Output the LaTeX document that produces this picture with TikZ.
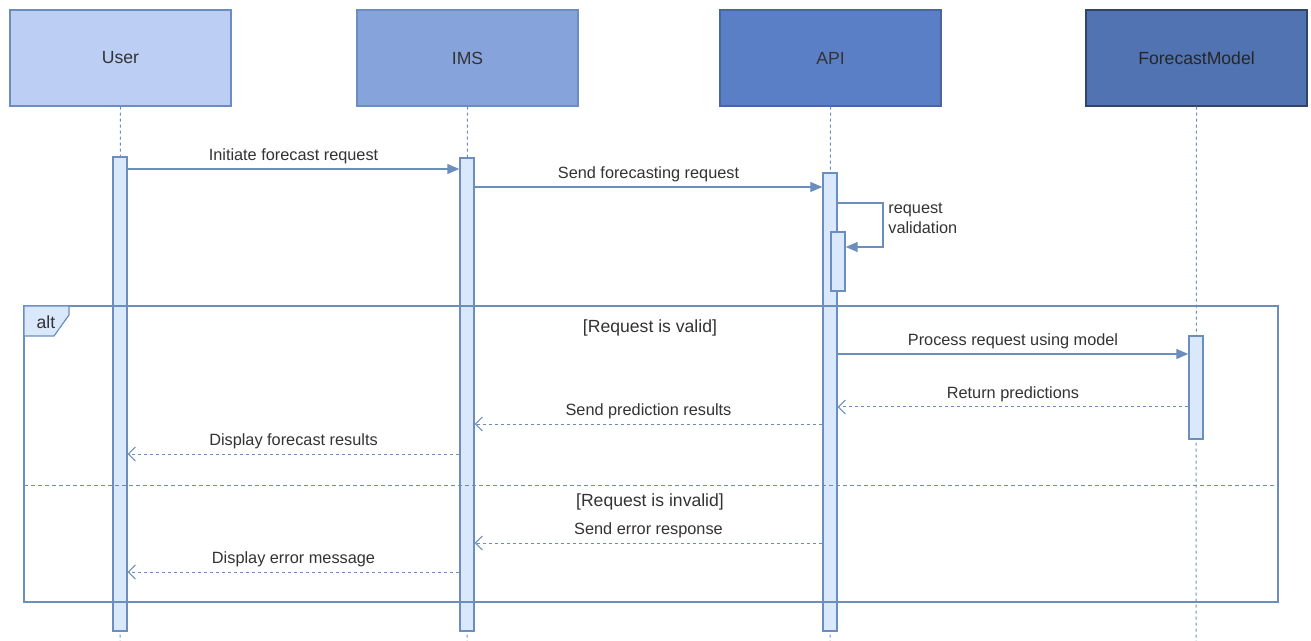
\documentclass[tikz,border=0pt]{standalone}
\usepackage{fontspec}
\setmainfont{Liberation Sans}
\usetikzlibrary{arrows.meta}
\definecolor{lineblue}{HTML}{6C8EBF}
\definecolor{barfill}{HTML}{DAE8FC}
\definecolor{userfill}{HTML}{BCCEF3}
\definecolor{imsfill}{HTML}{86A3DB}
\definecolor{apifill}{HTML}{5B7FC7}
\definecolor{fmfill}{HTML}{5173B2}
\definecolor{txt}{HTML}{333333}
\begin{document}
\begin{tikzpicture}[x=0.5pt,y=-0.5pt,
	head/.style={draw=lineblue, line width=0.6pt, minimum width=110.5pt, minimum height=48pt, inner sep=0pt, text=txt, font=\fontsize{8.8}{10}\selectfont},
	bar/.style={draw=lineblue, fill=barfill, line width=0.7pt, minimum width=7pt, inner sep=0pt},
	life/.style={draw=lineblue, line width=0.5pt, dash pattern=on 1.5pt off 1.5pt},
	call/.style={draw=lineblue, line width=0.65pt, -{Triangle[length=6pt,width=5pt]}},
	reply/.style={draw=lineblue, line width=0.5pt, dash pattern=on 1.5pt off 1.5pt, -{Straight Barb[length=3.5pt,width=7pt]}},
	lbl/.style={fill=white, inner sep=1pt, text=txt, font=\fontsize{8.15}{9.5}\selectfont},
	guard/.style={text=txt, font=\fontsize{8.8}{10}\selectfont}]
	\useasboundingbox (0,0) rectangle (1311,641);

	% participants
	\node[head, fill=userfill] (user) at (120.5,58) {User};
	\node[head, fill=imsfill] (ims) at (467.5,58) {IMS};
	\node[head, fill=apifill, draw=apifill!80!black] (api) at (830.5,58) {API};
	\node[head, fill=fmfill, draw=fmfill!60!black, text=black!85] (fm) at (1196.5,58) {ForecastModel};

	\coordinate (uend) at (120,641);
	\coordinate (iend) at (467,641);
	\coordinate (aend) at (830,641);
	\coordinate (fend) at (1196,641);
	\draw[life] (user.south) -- (uend);
	\draw[life] (ims.south) -- (iend);
	\draw[life] (api.south) -- (aend);
	\draw[life] (fm.south) -- (fend);

	% activations
	\node[bar, minimum height=237pt] (ubar) at (120,394) {};
	\node[bar, minimum height=236.5pt] (ibar) at (467,394.5) {};
	\node[bar, minimum height=229pt] (abar) at (830,402) {};
	\node[bar, minimum height=29.5pt] (vbar) at (838,261.5) {};
	\node[bar, minimum height=51.5pt] (fbar) at (1196,387.5) {};

	% messages
	\draw[call] (ubar.east |- 0,169) -- (ibar.west |- 0,169) node[lbl, midway, yshift=6.5pt] {Initiate forecast request};
	\draw[call] (ibar.east |- 0,187) -- (abar.west |- 0,187) node[lbl, midway, yshift=6.5pt] {Send forecasting request};
	\coordinate (self1) at (883,203);
	\coordinate (self2) at (883,247);
	\draw[call] (abar.east |- self1) -- (self1) -- (self2) -- (vbar.east |- self2);
	\node[text=txt, align=left, anchor=north west, inner sep=0pt, font=\fontsize{8.15}{10}\selectfont] (selflbl) at (888,203) {request\\validation};

	% alt fragment
	\draw[lineblue, line width=0.6pt] (24,306) rectangle (1278,602);
	\draw[lineblue, line width=0.6pt, fill=barfill] (24,306) -- (69,306) -- (69,315) -- (54,336) -- (24,336) -- cycle;
	\node[guard] (altlbl) at (46,322) {alt};
	\node[guard] (valid) at (650,328) {[Request is valid]};
	\draw[lineblue, line width=0.5pt, dash pattern=on 2pt off 1.5pt] (24,485) -- (1278,485);
	\node[guard] (invalid) at (650,502) {[Request is invalid]};

	\draw[call] (abar.east |- 0,354) -- (fbar.west |- 0,354) node[lbl, midway, yshift=6.5pt] {Process request using model};
	\draw[reply] (fbar.west |- 0,407) -- (abar.east |- 0,407) node[lbl, midway, yshift=6.5pt] {Return predictions};
	\draw[reply] (abar.west |- 0,424) -- (ibar.east |- 0,424) node[lbl, midway, yshift=6.5pt] {Send prediction results};
	\draw[reply] (ibar.west |- 0,454) -- (ubar.east |- 0,454) node[lbl, midway, yshift=6.5pt] {Display forecast results};
	\draw[reply] (abar.west |- 0,543) -- (ibar.east |- 0,543) node[lbl, midway, yshift=6.5pt] {Send error response};
	\draw[reply] (ibar.west |- 0,572) -- (ubar.east |- 0,572) node[lbl, midway, yshift=6.5pt] {Display error message};
\end{tikzpicture}
\end{document}
